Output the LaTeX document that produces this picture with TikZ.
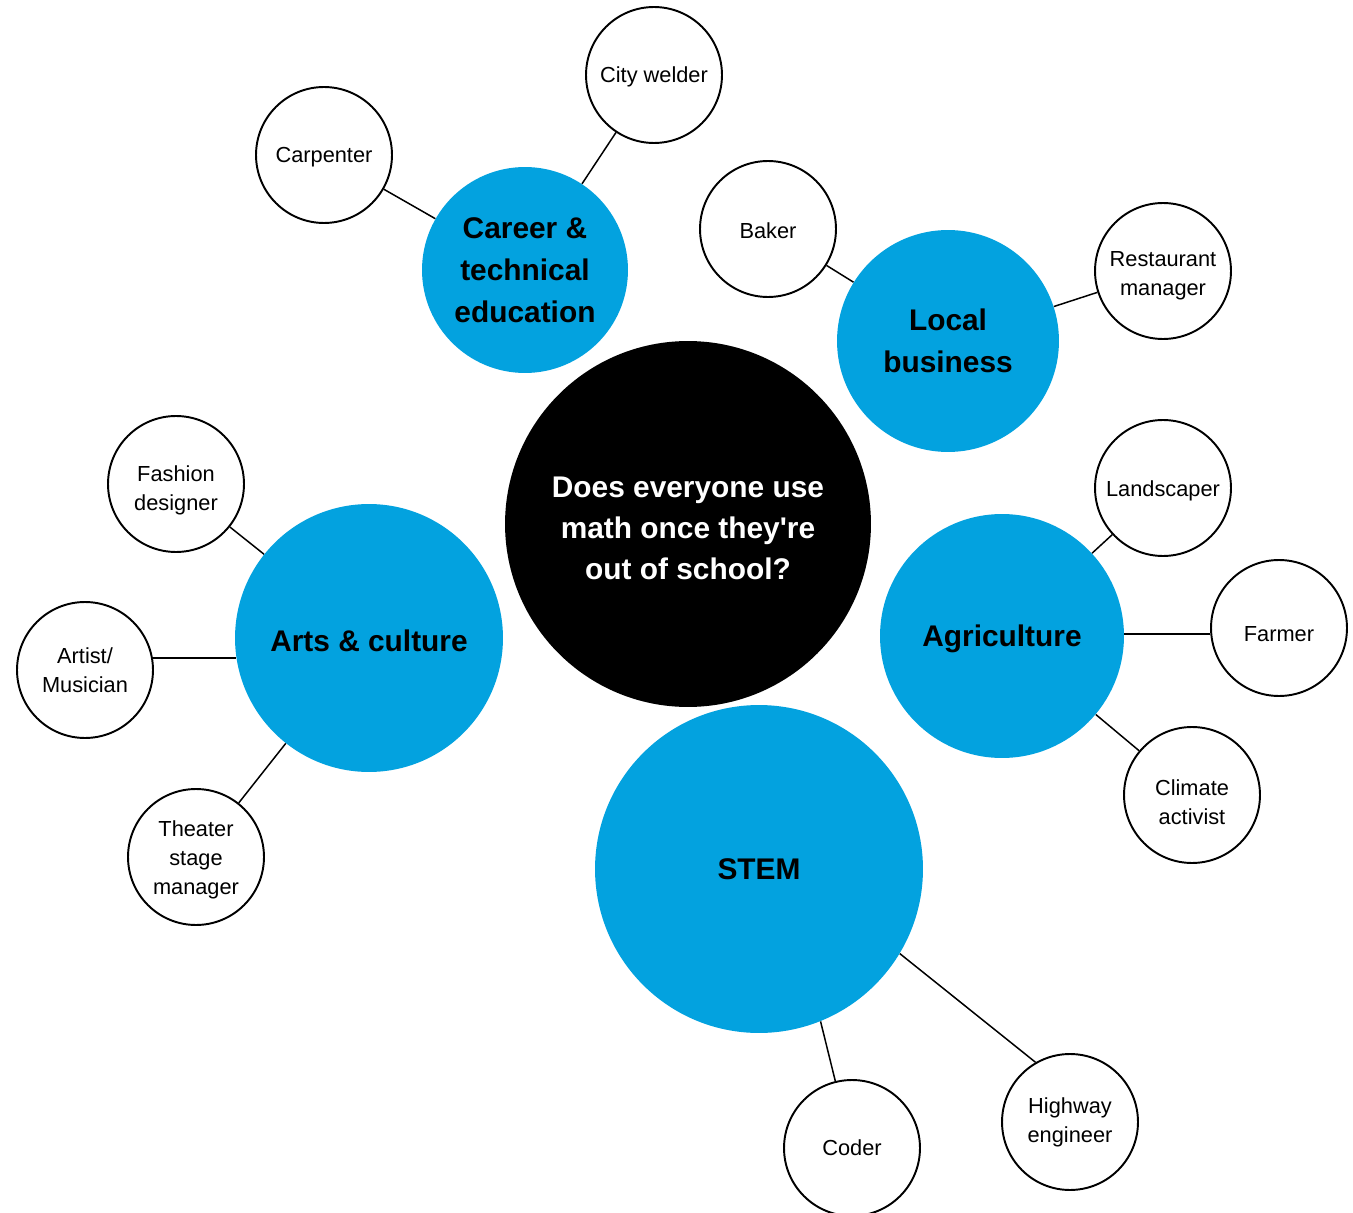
\documentclass[tikz,border=0pt]{standalone}
\usepackage{fontspec}
\setmainfont{Liberation Sans}[Ligatures=TeXOff]
\usetikzlibrary{calc}
\definecolor{topicblue}{RGB}{3,162,223}
\tikzset{
  % Central question
  hub/.style={shape=circle, fill=black, text=white, minimum size=7.32cm,
    inner sep=0pt, align=center, font=\fontsize{17}{23.3}\selectfont\bfseries},
  % Topic node
  topic/.style={shape=circle, fill=topicblue, inner sep=0pt, align=center,
    font=\fontsize{17}{23.8}\selectfont\bfseries},
  % Job node
  job/.style={draw, line width=1.1pt, fill=white, shape=circle,
    minimum size=2.72cm, inner sep=0pt, align=center,
    font=\fontsize{12.4}{16.4}\selectfont},
  % Push the text a little down in its circle
  drop/.style={execute at begin node={\rule{0pt}{#1}}},
  % Connector
  link/.style={line width=0.85pt},
}

\begin{document}
\begin{tikzpicture}[x=0.02cm, y=-0.02cm]
  \useasboundingbox (0,0) rectangle (1353,1213);

  % question and topics
  \node[hub, drop=63.3pt] (question) at (688,524) {Does everyone use\\math once they're\\out of school?};
  \node[topic, minimum size=4.12cm] (career) at (525,270) {Career \&\\technical\\education};
  \node[topic, minimum size=4.44cm] (local) at (948,341) {Local\\business};
  \node[topic, minimum size=5.36cm, drop=15.8pt] (arts) at (369,638) {Arts \& culture};
  \node[topic, minimum size=4.88cm, drop=15.8pt] (agri) at (1002,636) {Agriculture};
  \node[topic, minimum size=6.56cm] (stem) at (759,869) {STEM};

  % jobs
  \node[job, drop=11.3pt] (welder) at (654,75) {City welder};
  \node[job, drop=11.3pt] (carpenter) at (324,155) {Carpenter};
  \node[job, drop=11.3pt] (baker) at (768,229) {Baker};
  \node[job, drop=30pt] (restaurant) at (1163,271) {Restaurant\\manager};
  \node[job, drop=32.2pt] (fashion) at (176,484) {Fashion\\designer};
  \node[job] (artist) at (85,670) {Artist/\\Musician};
  \node[job, drop=45.3pt] (theater) at (196,857) {Theater\\stage\\manager};
  \node[job, drop=12.5pt] (landscaper) at (1163,488) {Landscaper};
  \node[job, drop=15.9pt] (farmer) at (1279,628) {Farmer};
  \node[job, drop=33.4pt] (climate) at (1192,795) {Climate\\activist};
  \node[job] (coder) at (852,1148) {Coder};
  \node[job] (highway) at (1070,1122) {Highway\\engineer};

  % links
  \draw[link] (career) -- (welder);
  \draw[link] (career) -- (carpenter);
  \draw[link] (local) -- (baker);
  \draw[link] (local) -- (restaurant);
  \draw[link] (arts) -- (fashion);
  \draw[link] (artist.10) -- (artist.10 -| arts.189);
  \draw[link] (arts) -- (theater);
  \draw[link] (agri) -- (landscaper);
  \draw[link] (farmer.185) -- (farmer.185 -| agri.1);
  \draw[link] (agri) -- (climate);
  \draw[link] (stem.-68) -- (coder.104);
  \draw[link] (stem.-31) -- (highway.120);
\end{tikzpicture}
\end{document}
